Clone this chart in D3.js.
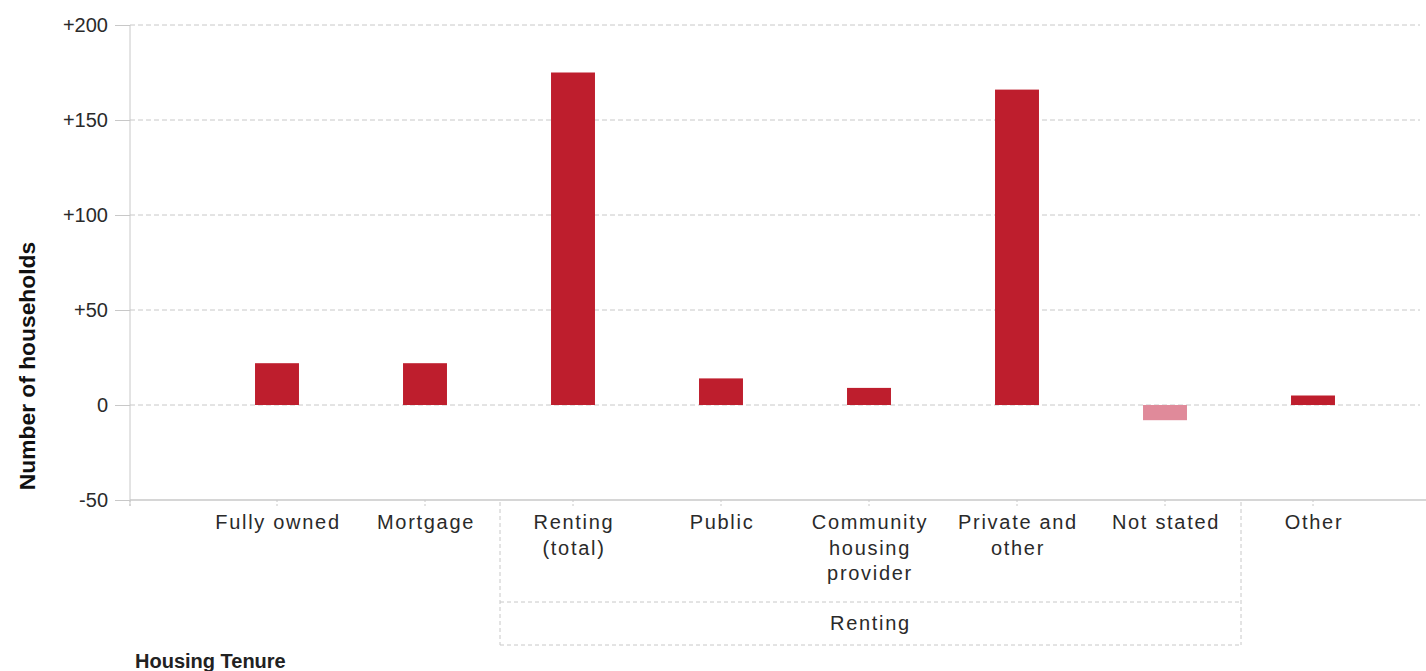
<!DOCTYPE html>
<html>
<head>
<meta charset="utf-8">
<script src="https://cdn.jsdelivr.net/npm/d3@7"></script>
<style>
  html, body { margin: 0; padding: 0; background: #fff; }
  svg { display: block; font-family: "Liberation Sans", Arial, sans-serif; }
</style>
</head>
<body>
<svg id="chart" width="1426" height="671"></svg>
<script>
// ---- data ----
const categories = ["Fully owned", "Mortgage", "Renting (total)", "Public", "Community housing provider", "Private and other", "Not stated", "Other"];
const categoryLines = [["Fully owned"], ["Mortgage"], ["Renting", "(total)"], ["Public"], ["Community", "housing", "provider"], ["Private and", "other"], ["Not stated"], ["Other"]];
const values = [22, 22, 175, 14, 9, 166, -8, 5];
const groupName = "Renting";
const groupMembers = ["Renting (total)", "Public", "Community housing provider", "Private and other", "Not stated"];
const yTicks = [-50, 0, 50, 100, 150, 200];
const yTickLabels = ["-50", "0", "+50", "+100", "+150", "+200"];
const yTitle = "Number of households";
const xTitle = "Housing Tenure";

// ---- layout ----
const svg = d3.select("#chart");
const axisX = 130, plotRight = 1426, yTop = 25, yBottom = 500;

const x = d3.scaleBand().domain(categories).range([203, 1387]).padding(0);
const y = d3.scaleLinear().domain([-50, 200]).range([yBottom, yTop]);
const barW = x.bandwidth() * 0.297;

const gridColor = "#c8c8c8";
const textColor = "#2a2a2a";

// gridlines (dashed)
svg.append("g").selectAll("line").data(yTicks.filter(d => d > -50)).join("line")
  .attr("x1", axisX).attr("x2", 1420)
  .attr("y1", d => y(d)).attr("y2", d => y(d))
  .attr("stroke", gridColor).attr("stroke-width", 1).attr("stroke-dasharray", "5,3");

// y axis
const yAxis = d3.axisLeft(y).tickValues(yTicks)
  .tickFormat((d, i) => yTickLabels[i]).tickSize(15).tickPadding(7);
const gy = svg.append("g").attr("transform", `translate(${axisX},0)`).call(yAxis);
gy.select(".domain").attr("stroke", gridColor).attr("d", `M0,${yTop}V${yBottom + 6}`);
gy.selectAll(".tick line").attr("stroke", gridColor);
gy.selectAll(".tick text").attr("font-size", 20).attr("fill", textColor)
  .attr("font-family", "Liberation Sans, Arial, sans-serif");

// x axis baseline
svg.append("line").attr("x1", axisX).attr("x2", plotRight)
  .attr("y1", yBottom).attr("y2", yBottom)
  .attr("stroke", gridColor).attr("stroke-width", 1.5);

// small x ticks
svg.append("g").selectAll("line").data(categories).join("line")
  .attr("x1", d => x(d) + x.bandwidth() / 2).attr("x2", d => x(d) + x.bandwidth() / 2)
  .attr("y1", yBottom).attr("y2", yBottom + 6)
  .attr("stroke", gridColor).attr("stroke-dasharray", "2,2");
svg.append("line").attr("x1", axisX).attr("x2", axisX)
  .attr("y1", yBottom).attr("y2", yBottom + 6)
  .attr("stroke", gridColor).attr("stroke-dasharray", "2,2");

// bars
svg.append("g").selectAll("rect").data(categories.map((c, i) => ({c, v: values[i]}))).join("rect")
  .attr("x", d => x(d.c) + (x.bandwidth() - barW) / 2)
  .attr("width", barW)
  .attr("y", d => y(Math.max(0, d.v)))
  .attr("height", d => Math.abs(y(d.v) - y(0)))
  .attr("fill", d => d.v < 0 ? "#e08a9a" : "#be1e2d");

// category labels
const lab = svg.append("g").selectAll("text").data(categories).join("text")
  .attr("x", d => x(d) + x.bandwidth() / 2 + 1)
  .attr("y", 529)
  .attr("text-anchor", "middle")
  .attr("font-size", 20).attr("letter-spacing", "1.7px").attr("fill", textColor);
lab.each(function(d, i) {
  const t = d3.select(this);
  categoryLines[i].forEach((ln, j) => {
    t.append("tspan").attr("x", x(d) + x.bandwidth() / 2 + 1)
      .attr("dy", j === 0 ? 0 : 25.5).text(ln);
  });
});

// group box
const gx0 = x(groupMembers[0]) + 1;
const gx1 = x(groupMembers[groupMembers.length - 1]) + x.bandwidth() + 2;
const gMid = 602, gBot = 645;
const gb = svg.append("g").attr("stroke", gridColor).attr("stroke-dasharray", "4,3").attr("fill", "none");
gb.append("line").attr("x1", gx0).attr("x2", gx0).attr("y1", yBottom + 2).attr("y2", gBot);
gb.append("line").attr("x1", gx1).attr("x2", gx1).attr("y1", yBottom + 2).attr("y2", gBot);
gb.append("line").attr("x1", gx0).attr("x2", gx1).attr("y1", gMid).attr("y2", gMid);
gb.append("line").attr("x1", gx0).attr("x2", gx1).attr("y1", gBot).attr("y2", gBot);
svg.append("text").attr("x", (gx0 + gx1) / 2).attr("y", 630)
  .attr("text-anchor", "middle").attr("font-size", 20).attr("letter-spacing", "1.7px")
  .attr("fill", textColor).text(groupName);

// titles
svg.append("text").attr("transform", "translate(35,366) rotate(-90)")
  .attr("text-anchor", "middle").attr("font-size", 22.8).attr("font-weight", "bold")
  .attr("fill", "#111").text(yTitle);
svg.append("text").attr("x", 135).attr("y", 668)
  .attr("font-size", 20).attr("font-weight", "bold").attr("fill", "#222").text(xTitle);
</script>
</body>
</html>
